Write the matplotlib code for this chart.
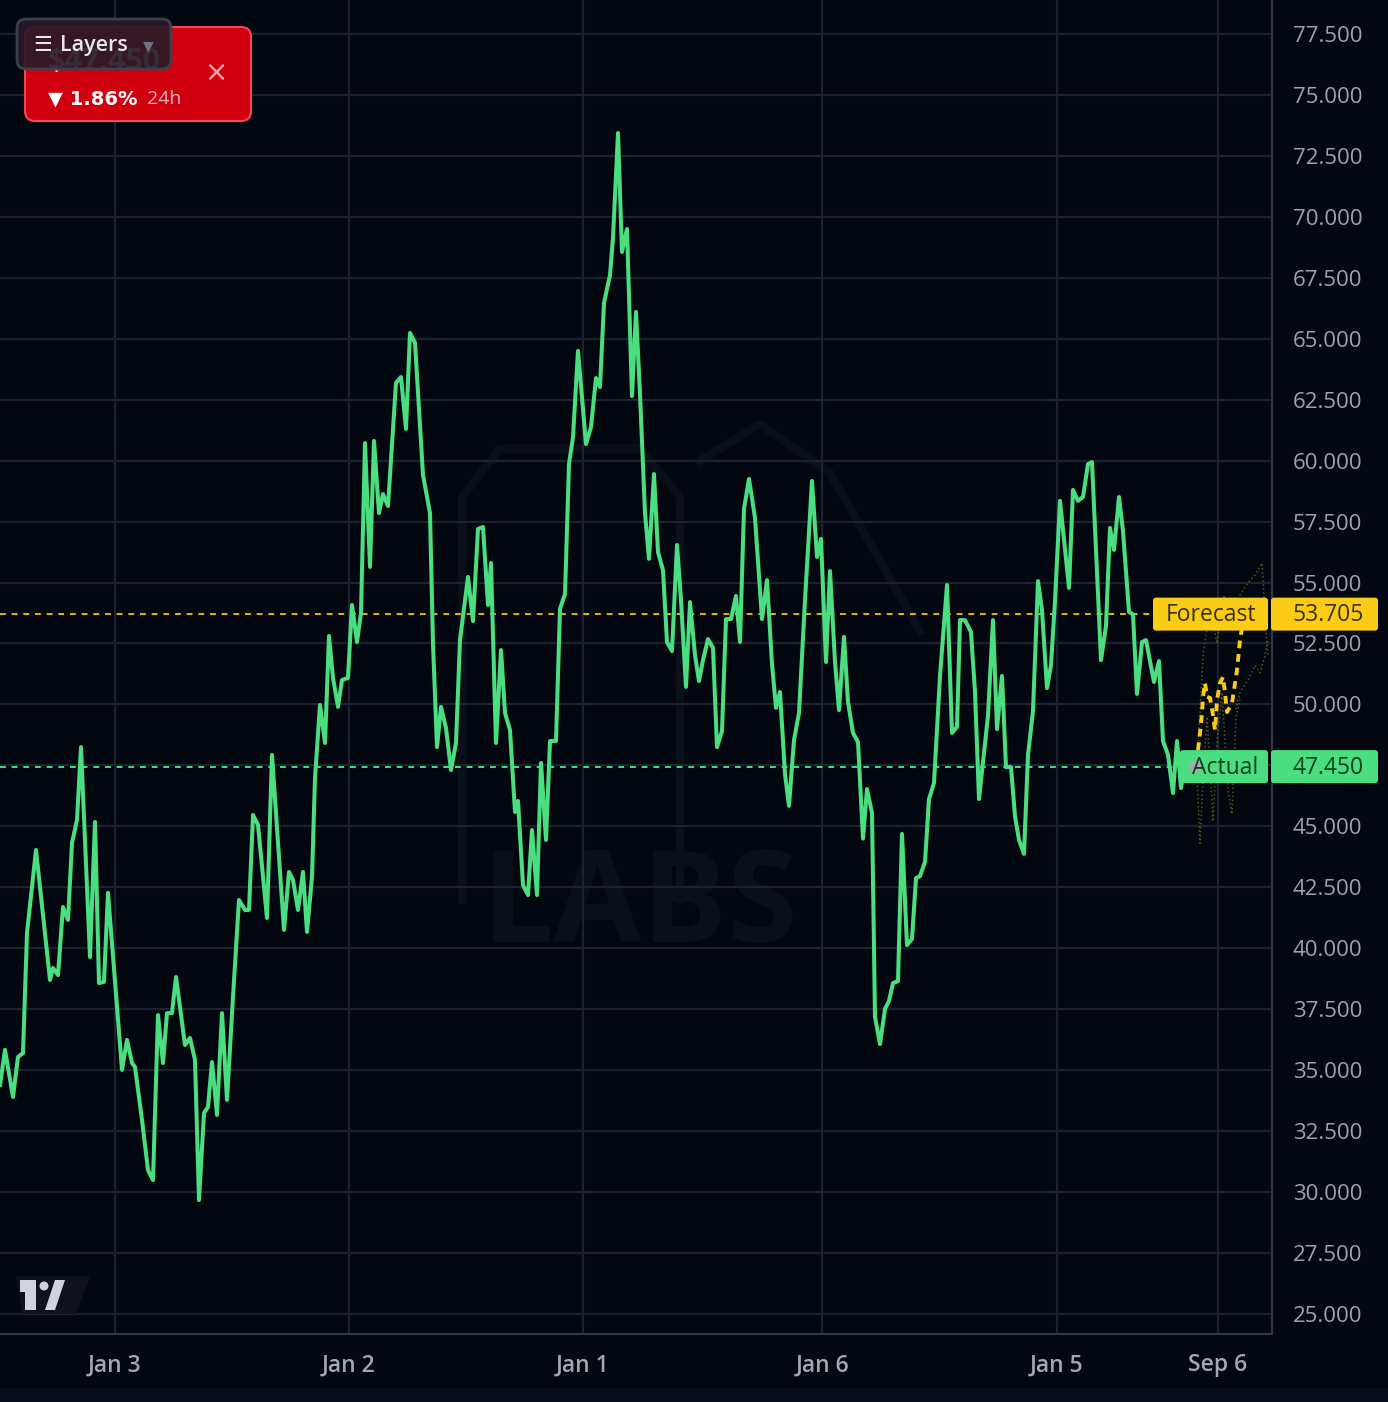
import numpy as np
import matplotlib.pyplot as plt
from matplotlib.patches import FancyBboxPatch, Rectangle, Polygon, Circle

# time position (chart units, ~235 per day) and price
t = [0, 5, 13, 18, 23, 27, 36, 50, 53, 58, 63, 68, 72, 77, 81, 90, 95, 99, 104, 108,
     122, 127, 132, 135, 142, 148, 153, 158, 163, 167, 172, 176, 185, 190, 195, 199,
     204, 208, 212, 217, 222, 227, 233, 239, 245, 249, 253, 258, 267, 272, 284, 289,
     293, 298, 303, 307, 312, 315, 320, 325, 329, 333, 338, 342, 348, 352, 357, 361,
     365, 370, 374, 379, 383, 388, 396, 401, 406, 410, 415, 423, 430, 433, 437, 441,
     446, 451, 456, 460, 468, 473, 478, 483, 488, 491, 496, 501, 505, 510, 515, 518,
     523, 528, 532, 537, 541, 546, 550, 556, 560, 565, 569, 573, 578, 586, 591, 596,
     600, 604, 610, 613, 618, 622, 627, 632, 636, 640, 645, 649, 654, 658, 663, 667,
     672, 677, 681, 686, 690, 695, 699, 703, 708, 713, 717, 722, 726, 731, 736, 740,
     744, 749, 755, 762, 767, 772, 776, 780, 785, 789, 794, 799, 805, 812, 817, 821,
     826, 830, 835, 839, 844, 848, 853, 858, 863, 867, 872, 875, 880, 885, 889, 893,
     898, 902, 907, 912, 916, 920, 925, 929, 934, 940, 947, 952, 957, 960, 965, 971,
     975, 979, 988, 993, 997, 1002, 1006, 1011, 1015, 1019, 1024, 1028, 1033, 1038,
     1042, 1047, 1051, 1055, 1060, 1069, 1073, 1078, 1083, 1088, 1092, 1101, 1106,
     1110, 1114, 1119, 1123, 1129, 1133, 1137, 1142, 1146, 1154, 1159, 1163, 1168,
     1173, 1177, 1181, 1184]
price = [34.39, 35.83, 33.90, 35.54, 35.70, 40.63, 44.03, 38.70, 39.19, 38.90, 41.69,
         41.16, 44.32, 45.26, 48.25, 39.64, 45.18, 38.57, 38.62, 42.27, 35.01, 36.24,
         35.29, 35.13, 32.96, 30.90, 30.49, 37.26, 35.29, 37.34, 37.34, 38.82, 36.03,
         36.32, 35.42, 29.67, 33.24, 33.49, 35.33, 33.16, 37.34, 33.78, 38.00, 41.98,
         41.57, 41.57, 45.47, 45.06, 41.24, 47.93, 40.75, 43.13, 42.80, 41.57, 43.13,
         40.67, 42.92, 46.98, 49.98, 48.42, 52.81, 51.09, 49.90, 51.00, 51.09, 54.08,
         52.56, 53.75, 60.72, 55.64, 60.81, 57.85, 58.63, 58.14, 63.19, 63.43, 61.30,
         65.24, 64.83, 59.41, 57.85, 52.48, 48.25, 49.90, 49.03, 47.31, 48.42, 52.64,
         55.23, 53.42, 57.20, 57.28, 54.08, 55.80, 48.42, 52.23, 49.65, 48.95, 45.59,
         46.04, 42.59, 42.18, 44.85, 42.18, 47.60, 44.44, 48.50, 48.50, 53.92, 54.53,
         59.86, 60.97, 64.50, 60.68, 61.38, 63.39, 63.02, 66.47, 67.61, 69.13, 73.44,
         68.56, 69.50, 62.65, 66.10, 62.73, 57.85, 55.97, 59.45, 56.25, 55.51, 52.56,
         52.19, 56.54, 54.28, 50.72, 54.20, 52.03, 50.96, 51.82, 52.68, 52.32, 48.25,
         48.91, 53.50, 53.50, 54.45, 52.56, 58.02, 59.25, 57.65, 53.50, 55.10, 51.66,
         49.86, 50.51, 47.15, 45.84, 48.54, 49.65, 54.28, 59.17, 56.05, 56.79, 51.74,
         55.47, 51.74, 49.77, 52.77, 50.10, 48.83, 48.46, 44.50, 46.53, 45.55, 37.18,
         36.07, 37.51, 37.84, 38.57, 38.65, 44.69, 40.13, 40.38, 42.88, 42.96, 43.54,
         46.12, 46.78, 51.17, 54.90, 48.83, 49.08, 53.46, 53.46, 52.97, 50.51, 46.12,
         49.53, 53.46, 48.99, 51.17, 47.43, 47.43, 45.42, 44.44, 43.87, 47.93, 49.73,
         55.06, 53.87, 50.67, 51.62, 54.24, 58.35, 54.78, 58.80, 58.35, 58.51, 59.86,
         59.94, 51.82, 53.22, 57.24, 56.34, 58.51, 57.11, 53.79, 53.70, 50.43, 52.56,
         52.64, 50.92, 51.78, 48.50, 47.93, 46.37, 48.50, 46.57, 47.45]

# forecast path and faint band
fc_t = [1198, 1200, 1202, 1203, 1205, 1207, 1210, 1213, 1215, 1217, 1220, 1223, 1225,
        1227, 1232, 1234, 1237, 1240, 1243]
fc_price = [48.13, 48.83, 49.65, 50.31, 50.88, 50.31, 50.27, 49.57, 48.95, 50.18,
            50.88, 51.13, 50.47, 49.69, 50.06, 50.59, 51.41, 52.64, 53.40]
band_hi_t = [1197, 1203, 1210, 1217, 1224, 1232, 1240, 1248, 1255, 1262, 1266, 1268]
band_hi = [47.5, 52.0, 54.0, 52.5, 54.5, 53.0, 54.5, 55.0, 55.3, 55.8, 53.0, 52.0]
band_mid_t = [1236, 1240, 1248, 1255, 1260, 1265, 1268]
band_mid = [49.8, 50.5, 51.0, 51.6, 51.3, 52.0, 52.6]
band_lo_t = [1197, 1200, 1203, 1207, 1210, 1213, 1217, 1222, 1228, 1232, 1236, 1240]
band_lo = [47.0, 44.3, 47.0, 49.5, 47.5, 45.2, 48.5, 50.5, 46.5, 45.5, 49.5, 50.2]

forecast_value = 53.705
actual_value = 47.450
change_pct = 1.86

day_ticks = [115, 349, 583, 822, 1057, 1218]
day_labels = ["Jan 3", "Jan 2", "Jan 1", "Jan 6", "Jan 5", "Sep 6"]
price_ticks = np.arange(25, 77.6, 2.5)

W, H = 1388, 1402
BG = "#03070f"
GRID = "#1c2230"
GREEN = "#4ade80"
YELLOW = "#facc15"

plt.rcParams["font.family"] = ["Open Sans", "DejaVu Sans"]

fig = plt.figure(figsize=(W / 100, H / 100), dpi=100, facecolor=BG)
ax = fig.add_axes([0, 68 / H, 1272 / W, 1 - 68 / H])
ax.set_facecolor(BG)
ax.set_xlim(0, 1272)
ax.set_ylim(77.5 - 1300 / 24.38, 77.5 + 34 / 24.38)

# the 47.500 label sits under the "Actual" tag in the original
ax.set_yticks(price_ticks)
ax.set_yticklabels(["" if abs(v - 47.5) < 0.01 else f"{v:.3f}" for v in price_ticks])
ax.yaxis.tick_right()
ax.set_xticks(day_ticks)
ax.set_xticklabels(day_labels)
ax.tick_params(axis="y", length=0, pad=15, labelsize=16, labelcolor="#9ca3af")
ax.tick_params(axis="x", length=0, pad=14, labelsize=16.5, labelcolor="#a3a7b0")
for lab in ax.get_xticklabels():
    lab.set_fontweight("semibold")
ax.grid(True, color=GRID, lw=1.6)
ax.set_axisbelow(True)
for s in ["top", "left"]:
    ax.spines[s].set_visible(False)
for s in ["right", "bottom"]:
    ax.spines[s].set_color("#2f3644")
    ax.spines[s].set_linewidth(1.6)

# faint watermark
ax.text(640, 41.6, "LABS", fontsize=92, fontweight="bold", color="#0a0f1a",
        ha="center", va="center", zorder=0.5)
ax.plot([462, 462, 500, 640, 680, 680], [42.0, 58.5, 60.5, 60.5, 58.5, 42.0],
        color="#0a0f1a", lw=6, zorder=0.5)
ax.plot([700, 760, 830, 920], [60.0, 61.5, 59.5, 53.0], color="#0a0f1a", lw=6, zorder=0.5)

ax.axhline(forecast_value, xmax=1153 / 1272, color="#eab308", lw=1.4, ls=(0, (3, 3)), zorder=2)
ax.axhline(actual_value, xmax=1180 / 1272, color=GREEN, lw=1.4, ls=(0, (3, 3)), zorder=2)

ax.plot(band_hi_t, band_hi, color="#66621f", lw=1.1, ls=":", alpha=0.85, zorder=2)
ax.plot(band_mid_t, band_mid, color="#66621f", lw=1.1, ls=":", alpha=0.85, zorder=2)
ax.plot(band_lo_t, band_lo, color="#66621f", lw=1.1, ls=":", alpha=0.85, zorder=2)
ax.plot(fc_t, fc_price, color=YELLOW, lw=2.8, ls=(0, (2, 1.5)), zorder=3)
ax.plot(t, price, color=GREEN, lw=2.9, solid_joinstyle="round", zorder=4)

# overlay in pixel coordinates for labels / chrome
ov = fig.add_axes([0, 0, 1, 1], zorder=5)
ov.set_xlim(0, W)
ov.set_ylim(H, 0)
ov.axis("off")
ov.patch.set_alpha(0)


def ypix(v):
    return H - ax.transData.transform((0, v))[1]


def price_tag(v, label, x0, color, txtcolor):
    y = ypix(v)
    ov.add_patch(FancyBboxPatch((x0, y - 16.5), 1268 - x0, 33,
                                boxstyle="round,pad=0,rounding_size=3", fc=color, ec="none"))
    ov.add_patch(FancyBboxPatch((1271, y - 16.5), 107, 33,
                                boxstyle="round,pad=0,rounding_size=3", fc=color, ec="none"))
    ov.text((x0 + 1268) / 2 + 1, y + 1, label, color=txtcolor, fontsize=16.5,
            ha="center", va="center")
    ov.text(1328, y + 1, f"{v:.3f}", color=txtcolor, fontsize=16.5,
            ha="center", va="center")
    return y


price_tag(forecast_value, "Forecast", 1153, YELLOW, "#3b3000")
ya = price_tag(actual_value, "Actual", 1180, GREEN, "#0b3d1e")
ov.add_patch(Circle((1195, ya), 6, fc="#a8a8b8", ec="none"))

# bottom strip
ov.add_patch(Rectangle((0, 1388), W, 14, fc="#0a0e1a", ec="none"))

# price card
ov.add_patch(FancyBboxPatch((25, 27), 226, 94, boxstyle="round,pad=0,rounding_size=10",
                            fc="#d0000f", ec="#f04a5a", lw=1.5))
ov.text(48, 62, "$47.450", color="#ffffff", fontsize=22, fontweight="bold",
        ha="left", va="center", zorder=1)
ov.text(48, 99, f"\u25bc {change_pct:.2f}%", color="white", fontsize=14,
        fontweight="bold", ha="left", va="center", family=["DejaVu Sans"])
ov.text(147, 99, "24h", color="#f5b3bb", fontsize=14, ha="left", va="center")
ov.text(216, 73, "\u00d7", color="#f3a5ad", fontsize=20, ha="center", va="center",
        family=["DejaVu Sans"])

# layers button (semi-opaque, price shows through faintly)
ov.add_patch(FancyBboxPatch((17, 19), 154, 50, boxstyle="round,pad=0,rounding_size=9",
                            fc=(0.16, 0.10, 0.15, 0.92), ec="#3b4050", lw=2, zorder=2))
ov.text(33, 45, "\u2630", color="#e5e7eb", fontsize=15, ha="left", va="center",
        family=["DejaVu Sans"], zorder=3)
ov.text(60, 45, "Layers", color="#e5e7eb", fontsize=15.5, fontweight="semibold",
        ha="left", va="center", zorder=3)
ov.text(148, 46, "\u25bc", color="#6b7280", fontsize=10, ha="center", va="center",
        family=["DejaVu Sans"], zorder=3)

# tradingview logo
ov.add_patch(Polygon([(16, 1276), (90, 1276), (76, 1314), (22, 1314)], fc="#0e121c", ec="none"))
ov.add_patch(Rectangle((20, 1280), 16, 12, fc="#d1d4dc", ec="none"))
ov.add_patch(Rectangle((25, 1280), 11, 30, fc="#d1d4dc", ec="none"))
ov.add_patch(Circle((44, 1286), 4.5, fc="#d1d4dc", ec="none"))
ov.add_patch(Polygon([(55, 1280), (65, 1280), (55, 1310), (45, 1310)], fc="#d1d4dc", ec="none"))

fig.savefig("out.png", dpi=100, facecolor=BG)
